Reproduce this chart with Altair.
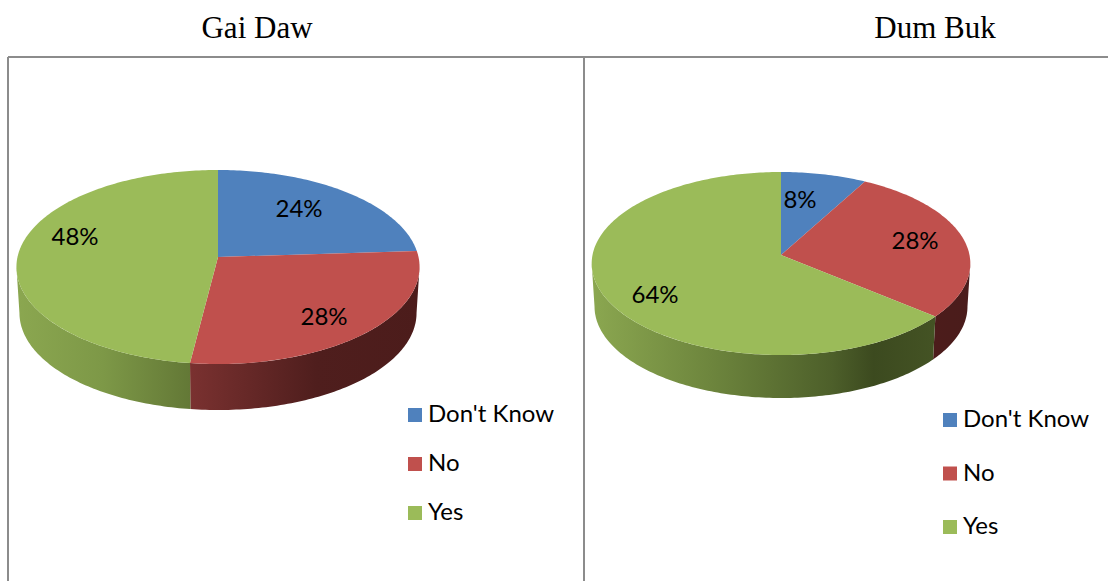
import math
import altair as alt

# Survey answers, percent of respondents per village
categories = ["Don't Know", "No", "Yes"]
gai_daw_values = [24, 28, 48]
dum_buk_values = [8, 28, 64]
slice_colors = ["#4F81BD", "#C0504D", "#9BBB59"]

LABEL_FONT = "Lato"
TITLE_FONT = "Liberation Serif"
FRAME = "#8C8C8C"


def rim_point(panel, theta_deg, drop=0.0, shrink=1.0):
    """Tilted-disc perspective: the far edge of the pie sits closer to its apex."""
    t = math.radians(theta_deg)
    u, v = math.sin(t), math.cos(t)
    w = 1 + panel["k"] * v
    return [
        panel["cx"] + shrink * panel["rx"] * u / w,
        panel["cy"] - panel["ry"] * v / w + drop,
    ]


def angles(start, end):
    n = max(2, int(abs(end - start)) + 1)
    return [start + (end - start) * i / n for i in range(n + 1)]


def feature(ring, name):
    ring = ring + [ring[0]]
    return {
        "type": "Feature",
        "properties": {"name": name},
        "geometry": {"type": "Polygon", "coordinates": [ring]},
    }


def gradient(stops):
    return alt.Gradient(
        gradient="linear", x1=0, x2=1, y1=0, y2=0,
        stops=[alt.GradientStop(offset=o, color=c) for o, c in stops],
    )


def flat(chart):
    # canvas pixels map one to one onto the plane of the pie
    return chart.project(type="identity", scale=1, translate=[0, 0])


def text_layer(label, at, font, size):
    return (
        alt.Chart(alt.Data(values=[{"t": label}]))
        .mark_text(font=font, fontSize=size, color="#000000", align="center", baseline="middle")
        .encode(text="t:N", x=alt.value(at[0]), y=alt.value(at[1]))
    )


def pie_layers(panel, values):
    walls, labels = [], []

    # slice boundaries, clockwise from twelve o'clock
    edges = [0.0]
    for v in values:
        edges.append(edges[-1] + v * 3.6)

    # side walls run between the disc's widest points
    side = math.degrees(math.acos(-panel["k"]))
    for i, name in enumerate(categories):
        lo, hi = max(edges[i], side), min(edges[i + 1], 360 - side)
        if hi <= lo or name not in panel["walls"]:
            continue
        top = [rim_point(panel, a) for a in angles(lo, hi)]
        bottom = [
            rim_point(panel, a, drop=panel["depth"], shrink=panel["base_shrink"])
            for a in angles(hi, lo)
        ]
        walls.append(
            flat(
                alt.Chart(alt.Data(values=[feature(top + bottom, name)]))
                .mark_geoshape(fill=gradient(panel["walls"][name]), strokeWidth=0)
            )
        )

    # top face of each slice, carrying the colour legend
    tops = []
    for i, name in enumerate(categories):
        ring = [rim_point(panel, a) for a in angles(edges[i], edges[i + 1])]
        ring.append([panel["cx"], panel["cy"]])
        tops.append(feature(ring, name))
    face = flat(
        alt.Chart(alt.Data(values=tops))
        .mark_geoshape(strokeWidth=0)
        .encode(
            color=alt.Color(
                "properties.name:N",
                scale=alt.Scale(domain=categories, range=slice_colors),
                legend=alt.Legend(
                    title=None,
                    orient="none",
                    legendX=panel["legend"][0],
                    legendY=panel["legend"][1],
                    symbolType="square",
                    symbolSize=196,
                    symbolStrokeWidth=0,
                    symbolOpacity=1,
                    labelFont=LABEL_FONT,
                    labelFontSize=24,
                    labelColor="#000000",
                    labelOffset=1,
                    rowPadding=panel["legend_gap"],
                ),
            )
        )
    )

    # percentage labels and the village name
    for v, at in zip(values, panel["label_at"]):
        labels.append(text_layer(f"{v}%", at, LABEL_FONT, 24))
    labels.append(text_layer(panel["title"], panel["title_at"], TITLE_FONT, 31))

    return [*walls, face, *labels]


left_panel = {
    "title": "Gai Daw", "title_at": (257, 29),
    "cx": 218, "cy": 257, "rx": 200.5, "ry": 96, "k": 0.103,
    "depth": 46, "base_shrink": 0.985,
    "walls": {
        "No": [(0, "#7A3130"), (0.55, "#4F1E1D"), (1, "#4C1C1B")],
        "Yes": [(0, "#8BA750"), (0.5, "#7D9847"), (1, "#637836")],
    },
    "legend": (403, 403), "legend_gap": 25,
    "label_at": [(299, 210), (324, 318), (75, 238)],
}
right_panel = {
    "title": "Dum Buk", "title_at": (935, 29),
    "cx": 781, "cy": 255, "rx": 188.5, "ry": 90.7, "k": 0.093,
    "depth": 43, "base_shrink": 0.985,
    "walls": {
        "No": [(0, "#4C1C1B"), (1, "#4A1C1B")],
        "Yes": [(0, "#8BA750"), (0.35, "#6D853D"), (0.7, "#4D5F2A"), (0.82, "#3C4A1F"), (1, "#445324")],
    },
    "legend": (938, 408), "legend_gap": 29.5,
    "label_at": [(800, 201), (915, 242), (655, 296)],
}

# panel frame: open at the bottom and right page edges
frame_lines = [
    {"x": 8, "y": 57, "y2": 581},
    {"x": 8, "x2": 1108, "y": 57},
    {"x": 584, "y": 57, "y2": 581},
]
frame = [
    alt.Chart(alt.Data(values=[{}]))
    .mark_rule(color=FRAME, strokeWidth=2)
    .encode(**{k: alt.value(p) for k, p in spec.items()})
    for spec in frame_lines
]

chart = (
    alt.layer(*frame, *pie_layers(left_panel, gai_daw_values), *pie_layers(right_panel, dum_buk_values))
    .resolve_scale(color="independent")
    .properties(
        width=1108, height=581, padding=0, background="#FFFFFF",
        autosize=alt.AutoSizeParams(type="none"),
        view=alt.ViewConfig(stroke=None),
    )
)

chart.save("out.html", embed_options={"renderer": "svg", "actions": False})
